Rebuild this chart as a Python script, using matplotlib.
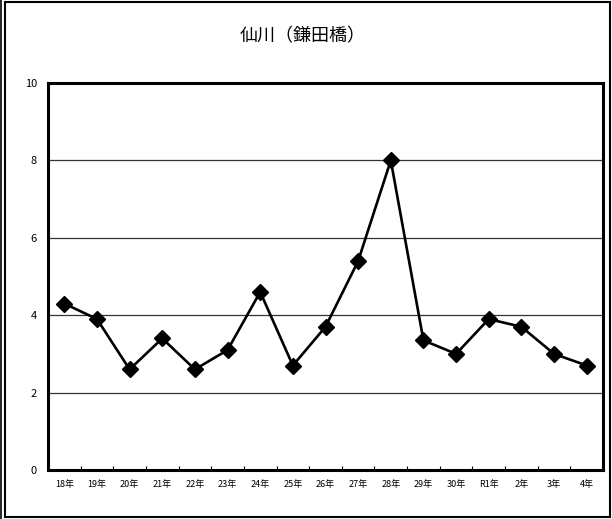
import numpy as np
import matplotlib
matplotlib.use('Agg')
from matplotlib import pyplot as plt
from matplotlib.patches import Rectangle
from matplotlib.lines import Line2D

plt.rcParams['font.family'] = ['Noto Sans CJK JP', 'DejaVu Sans']

# 年度ラベルと測定値
years = ['18年', '19年', '20年', '21年', '22年', '23年', '24年', '25年', '26年',
         '27年', '28年', '29年', '30年', 'R1年', '2年', '3年', '4年']
values = [4.3, 3.9, 2.6, 3.4, 2.6, 3.1, 4.6, 2.7, 3.7,
          5.4, 8.0, 3.35, 3.0, 3.9, 3.7, 3.0, 2.7]
yticks = [0, 2, 4, 6, 8, 10]

W, H = 612, 519
fig = plt.figure(figsize=(W / 100, H / 100), dpi=100)
ax = fig.add_axes([48 / W, 49 / H, 555 / W, 387 / H])

x = np.arange(len(years))
ax.plot(x, values, color='black', linewidth=1.9, marker='D', markersize=8.5,
        markerfacecolor='black', markeredgecolor='black', zorder=3)

ax.set_xlim(-0.5, len(years) - 0.5)
ax.set_ylim(0, 10)
ax.set_yticks(yticks)
ax.set_yticklabels([str(v) for v in yticks], fontsize=8)
ax.set_xticks(x)
ax.set_xticklabels(years, fontsize=6.5)
ax.set_xticks(np.arange(len(years) + 1) - 0.5, minor=True)
ax.tick_params(axis='x', which='major', length=0, pad=7)
ax.tick_params(axis='x', which='minor', length=3, direction='in', width=0.8)
ax.tick_params(axis='y', length=0, pad=8)

# 横の目盛線
for v in yticks[1:-1]:
    ax.axhline(v, color='#333333', linewidth=0.9, zorder=1)

for s in ax.spines.values():
    s.set_linewidth(2.2)
    s.set_color('black')

fig.text(303 / W, 1 - 36 / H, '仙川（鎌田橋）', ha='center', va='center', fontsize=13)

# 外枠
fig.patches.append(Rectangle((5 / W, 2 / H), 605 / W, 515 / H, transform=fig.transFigure,
                             fill=False, edgecolor='black', linewidth=1.5))
fig.lines.append(Line2D([1 / W, 1 / W], [0, 1], transform=fig.transFigure,
                        color='black', linewidth=1.2))

fig.savefig('out.png', dpi=100)
